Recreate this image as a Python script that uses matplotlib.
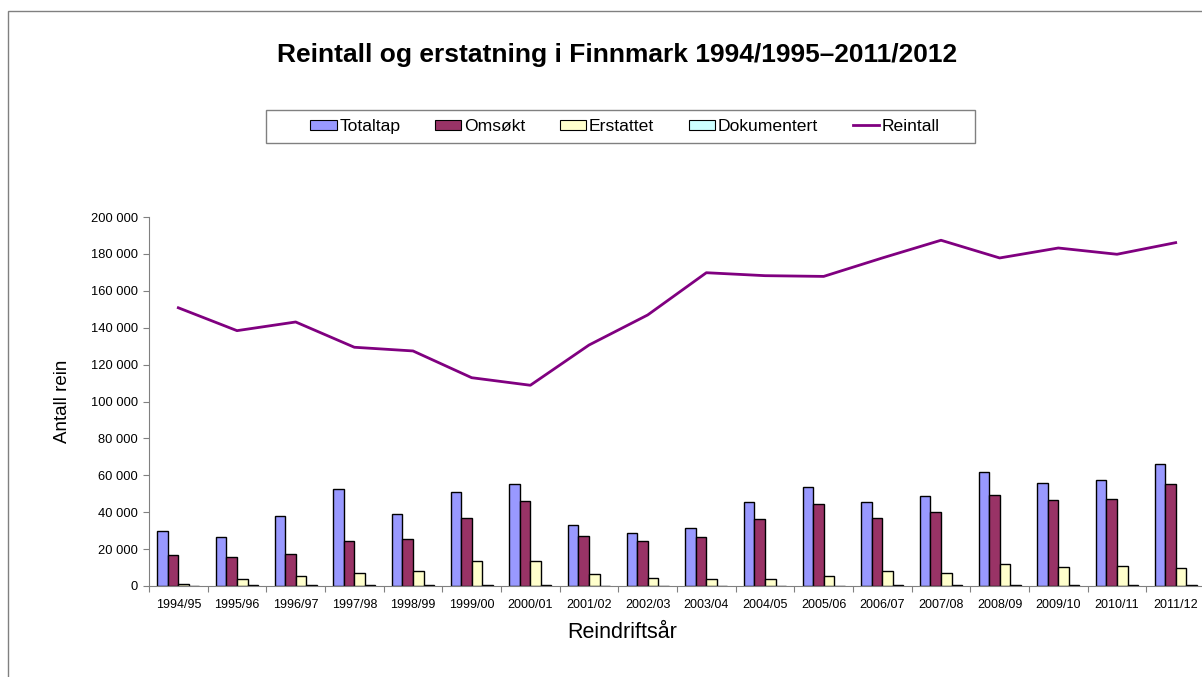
"""Reintall og erstatning i Finnmark, bars for tap and a line for reintall."""

import matplotlib
matplotlib.use("Agg")
import matplotlib.pyplot as plt
import matplotlib.patches as mpatches
from matplotlib.ticker import FuncFormatter, FixedLocator
import numpy as np

years = ["1994/95", "1995/96", "1996/97", "1997/98", "1998/99", "1999/00",
         "2000/01", "2001/02", "2002/03", "2003/04", "2004/05", "2005/06",
         "2006/07", "2007/08", "2008/09", "2009/10", "2010/11", "2011/12"]

totaltap = [29800, 26400, 38100, 52700, 38900, 51100, 55400, 32900, 28900,
            31400, 45400, 53800, 45700, 48900, 62000, 55800, 57500, 66100]
omsokt = [16800, 15700, 17500, 24400, 25300, 36900, 46200, 26900, 24400,
          26400, 36500, 44400, 36700, 40100, 49300, 46800, 47200, 55400]
erstattet = [1200, 3800, 5200, 7200, 7900, 13600, 13700, 6300, 4500,
             3800, 3800, 5400, 8100, 7200, 11900, 10300, 10800, 9900]
dokumentert = [200, 500, 800, 500, 800, 800, 300, 200, 200,
               200, 200, 200, 500, 300, 500, 500, 500, 300]
reintall = [150800, 138400, 143100, 129400, 127400, 112900, 108800, 130600, 146900,
            169800, 168200, 167800, 177800, 187400, 177800, 183200, 179800, 186100]


def space_thousands(v, pos):
    return f"{int(v):,}".replace(",", " ")


def plot_reintall():
    plt.rcParams['font.family'] = ['Liberation Sans', 'DejaVu Sans']

    fig = plt.figure(figsize=(12.02, 6.77), dpi=100)
    ax = fig.add_axes([149 / 1202, 1 - 586 / 677, 1056 / 1202, 369 / 677])

    x = np.arange(len(years))
    w = 0.18
    series = [(totaltap, "#9999FF", "Totaltap"),
              (omsokt, "#993366", "Omsøkt"),
              (erstattet, "#FFFFCC", "Erstattet"),
              (dokumentert, "#CCFFFF", "Dokumentert")]

    handles = []
    for i, (vals, col, lab) in enumerate(series):
        ax.bar(x + (i - 1.5) * w, vals, width=w, color=col,
               edgecolor="black", linewidth=1.0, zorder=2)
        handles.append(mpatches.Patch(facecolor=col, edgecolor="black",
                                      linewidth=0.8, label=lab))

    line, = ax.plot(x, reintall, color="#800080", linewidth=2.0, zorder=3,
                    label="Reintall")
    handles.append(line)

    # axes like in excel
    ax.set_xlim(-0.5, len(years) - 0.5)
    ax.set_ylim(0, 200000)
    ax.set_yticks(np.arange(0, 200001, 20000))
    ax.yaxis.set_major_formatter(FuncFormatter(space_thousands))
    ax.xaxis.set_major_locator(FixedLocator(np.arange(-0.5, len(years), 1.0)))
    ax.xaxis.set_major_formatter(plt.NullFormatter())
    ax.set_xticks(x, minor=True)
    ax.set_xticklabels(years, minor=True)
    ax.tick_params(axis="x", which="minor", length=0, labelsize=9, pad=9)
    ax.tick_params(axis="x", which="major", length=4, color="#808080")
    ax.tick_params(axis="y", length=4, color="#808080", labelsize=9.3, pad=4)

    for s in ["top", "right"]:
        ax.spines[s].set_visible(False)
    ax.spines["left"].set_color("#808080")
    ax.spines["bottom"].set_color("#808080")

    ax.set_ylabel("Antall rein", fontsize=13.5, labelpad=14)
    fig.text(622 / 1202, 1 - 633 / 677, "Reindriftsår", fontsize=15.5,
             ha="center", va="center")

    fig.text(617 / 1202, 1 - 55 / 677,
             "Reintall og erstatning i Finnmark 1994/1995\u20132011/2012",
             fontsize=19, fontweight="bold", ha="center", va="center")

    # legend entries spread over the box, frame drawn separately
    fig.legend(handles=handles, loc="center", ncol=5, mode="expand",
               bbox_to_anchor=(305 / 1202, 1 - 143 / 677, 640 / 1202, 33 / 677),
               fontsize=12.6, frameon=False, borderpad=0.3,
               handlelength=1.5, handleheight=0.55, handletextpad=0.15,
               borderaxespad=0)
    fig.patches.append(mpatches.Rectangle((266 / 1202, 1 - 143 / 677),
                                          709 / 1202, 33 / 677,
                                          transform=fig.transFigure, fill=False,
                                          edgecolor="#808080", linewidth=1.0))

    # outer frame of the chart
    fig.patches.append(mpatches.Rectangle((8 / 1202, -0.2), 1.2, 1.2 - 11 / 677,
                                          transform=fig.transFigure, fill=False,
                                          edgecolor="#808080", linewidth=1.0))

    fig.savefig("out.png", dpi=100)


if __name__ == "__main__":
    plot_reintall()
